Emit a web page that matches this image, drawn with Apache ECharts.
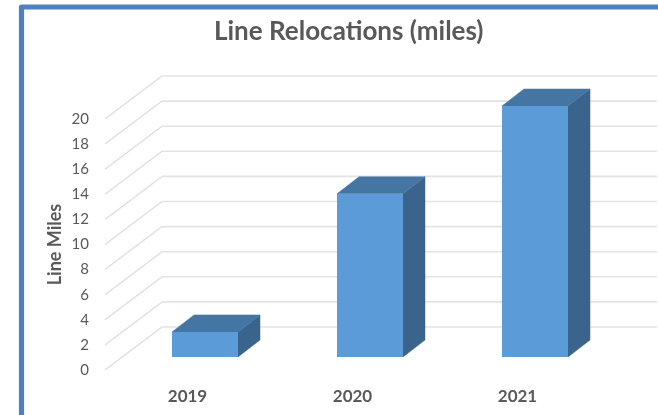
<!DOCTYPE html>
<html>
<head>
<meta charset="utf-8">
<style>html,body{margin:0;padding:0;background:#fff}#c{width:658px;height:415px}</style>
<script src="https://cdn.jsdelivr.net/npm/echarts@6/dist/echarts.min.js"></script>
</head>
<body>
<div id="c"></div>
<script>
var categories = ['2019', '2020', '2021'];
var milesValues = [2, 13, 20];
var yTicks = [0, 2, 4, 6, 8, 10, 12, 14, 16, 18, 20];

var WALL_DX = 57, WALL_DY = -43;
var BAR_DX = 17.5, BAR_DY = -13;
var BAR_DEPTH_X = 22, BAR_DEPTH_Y = -17;

var chart = echarts.init(document.getElementById('c'), null, {renderer: 'canvas'});

function renderWall(params, api) {
  var cs = params.coordSys;
  var y = api.coord([0, api.value(1)])[1];
  var x = cs.x;
  return {
    type: 'group',
    children: [
      {type: 'line', shape: {x1: x, y1: y, x2: x + WALL_DX, y2: y + WALL_DY},
        style: {stroke: '#dcdcdc', lineWidth: 1.2}, silent: true},
      {type: 'line', shape: {x1: x + WALL_DX, y1: y + WALL_DY, x2: x + WALL_DX + cs.width, y2: y + WALL_DY},
        style: {stroke: '#e3e3e3', lineWidth: 1.6}, silent: true}
    ]
  };
}

function renderBar(params, api) {
  var i = api.value(0);
  var top = api.coord([i, api.value(1)]);
  var base = api.coord([i, 0]);
  var w = api.size([1, 0])[0] * 0.4;
  var l = top[0] - w / 2 + BAR_DX, r = l + w;
  var t = top[1] + BAR_DY, b = base[1] + BAR_DY;
  var dx = BAR_DEPTH_X, dy = BAR_DEPTH_Y;
  return {
    type: 'group',
    children: [
      {type: 'polygon', shape: {points: [[r, t], [r + dx, t + dy], [r + dx, b + dy], [r, b]]},
        style: {fill: '#3A648C', stroke: '#3A648C', lineWidth: 0.5}},
      {type: 'polygon', shape: {points: [[l, t], [l + dx, t + dy], [r + dx, t + dy], [r, t]]},
        style: {fill: '#4576A3', stroke: '#4576A3', lineWidth: 0.5}},
      {type: 'rect', shape: {x: l, y: t, width: w, height: b - t},
        style: {fill: '#5B9BD7'}}
    ]
  };
}

chart.setOption({
  animation: false,
  backgroundColor: '#ffffff',
  title: {
    text: 'Line Relocations (miles)',
    left: 209, top: 14,
    textStyle: {fontFamily: 'Lato', fontSize: 26, fontWeight: 'bold', color: '#595959'}
  },
  grid: {left: 105, width: 495, top: 119, height: 251},
  xAxis: {
    type: 'category',
    data: categories,
    axisLine: {show: false},
    axisTick: {show: false},
    axisLabel: {margin: 18, fontFamily: 'Lato', fontSize: 17, fontWeight: 'bold', color: '#595959'}
  },
  yAxis: {
    type: 'value',
    min: 0, max: 20, interval: 2,
    name: 'Line Miles',
    nameLocation: 'middle',
    nameRotate: 90,
    nameGap: 41,
    nameMoveOverlap: false,
    nameTextStyle: {fontFamily: 'Lato', fontSize: 18, fontWeight: 'bold', color: '#595959'},
    axisLine: {show: false},
    axisTick: {show: false},
    splitLine: {show: false},
    axisLabel: {margin: 16, fontFamily: 'Lato', fontSize: 15, color: '#595959'}
  },
  series: [
    {type: 'custom', z: 1, clip: false, silent: true, renderItem: renderWall,
      encode: {x: 0, y: 1},
      data: yTicks.map(function (t) { return [0, t]; })},
    {type: 'custom', z: 2, clip: false, renderItem: renderBar,
      encode: {x: 0, y: 1},
      data: milesValues.map(function (v, i) { return [i, v]; })}
  ],
  graphic: [
    {type: 'polyline', z: 10, silent: true,
      shape: {points: [[21.5, 415], [21.5, 7], [658, 7]]},
      style: {stroke: '#4F81BD', lineWidth: 5.2, fill: 'none', lineJoin: 'round'}}
  ]
});
</script>
</body>
</html>
